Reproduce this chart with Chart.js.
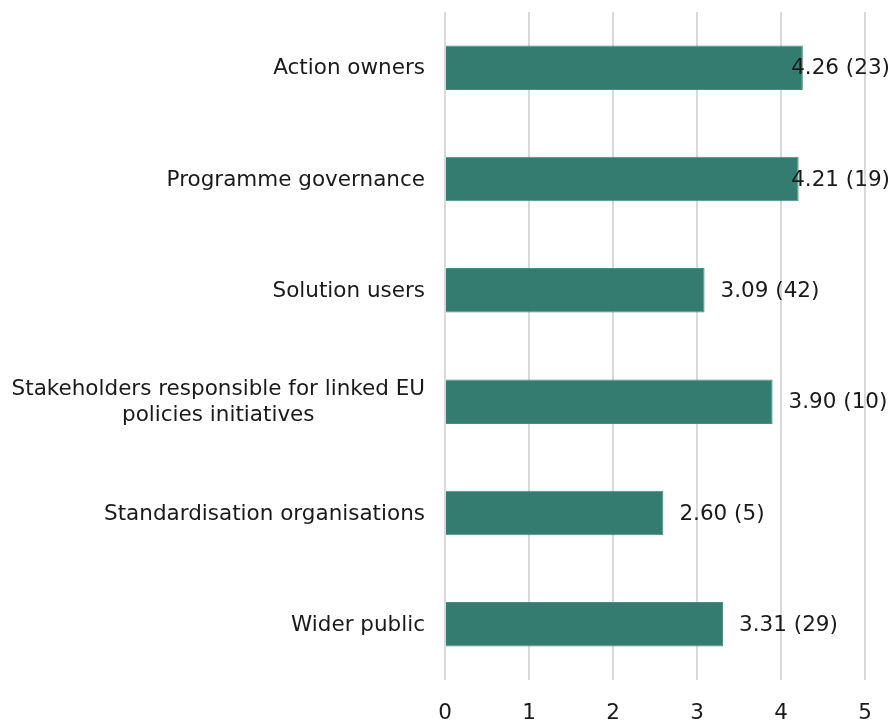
<!DOCTYPE html>
<html>
<head>
<meta charset="utf-8">
<script src="https://cdn.jsdelivr.net/npm/chart.js@4"></script>
<style>
  html, body { margin: 0; padding: 0; background: #fff; }
  #wrap { width: 895px; height: 720px; }
</style>
</head>
<body>
<div id="wrap"><canvas id="chart"></canvas></div>
<script>
const categories = [
  ['Action owners'],
  ['Programme governance'],
  ['Solution users'],
  ['Stakeholders responsible for linked EU', 'policies initiatives'],
  ['Standardisation organisations'],
  ['Wider public']
];
const scores = [4.26, 4.21, 3.09, 3.90, 2.60, 3.31];
const respondents = [23, 19, 42, 10, 5, 29];
const xTicks = [0, 1, 2, 3, 4, 5];

const FONT = '"DejaVu Sans", Verdana, sans-serif';
const FONT_SIZE = 21.5;
const TEXT = '#1a1a1a';

// category names left of the axis, multi-line ones centred on their widest line
const categoryLabels = {
  id: 'categoryLabels',
  afterDraw(chart) {
    const { ctx, chartArea, scales } = chart;
    ctx.save();
    ctx.font = FONT_SIZE + 'px ' + FONT;
    ctx.fillStyle = TEXT;
    ctx.textBaseline = 'middle';
    const right = chartArea.left - 20;
    categories.forEach((lines, i) => {
      const y = scales.y.getPixelForValue(i) + 1;
      const lh = 26;
      const y0 = y - (lines.length - 1) * lh / 2;
      if (lines.length === 1) {
        ctx.textAlign = 'right';
        ctx.fillText(lines[0], right, y0);
      } else {
        const w = Math.max(...lines.map(l => ctx.measureText(l).width));
        ctx.textAlign = 'center';
        lines.forEach((l, j) => ctx.fillText(l, right - w / 2, y0 + j * lh));
      }
    });
    ctx.restore();
  }
};

// "score (n)" next to each bar, pulled back inside the canvas when it would overflow
const valueLabels = {
  id: 'valueLabels',
  afterDatasetsDraw(chart) {
    const { ctx } = chart;
    const meta = chart.getDatasetMeta(0);
    ctx.save();
    ctx.font = FONT_SIZE + 'px ' + FONT;
    ctx.fillStyle = TEXT;
    ctx.textBaseline = 'middle';
    ctx.textAlign = 'left';
    meta.data.forEach((bar, i) => {
      const txt = scores[i].toFixed(2) + ' (' + respondents[i] + ')';
      const w = ctx.measureText(txt).width;
      const x = Math.min(bar.x + 16, chart.width - 5 - w);
      ctx.fillText(txt, x, bar.y + 1);
    });
    ctx.restore();
  }
};

new Chart(document.getElementById('chart'), {
  type: 'bar',
  data: {
    labels: categories.map(c => c.join(' ')),
    datasets: [{
      data: scores,
      backgroundColor: '#347c6f',
      borderColor: '#4a8c80',
      borderWidth: 1,
      borderSkipped: 'start',
      barPercentage: 0.4,
      categoryPercentage: 1
    }]
  },
  options: {
    indexAxis: 'y',
    responsive: true,
    maintainAspectRatio: false,
    animation: false,
    layout: { padding: { left: 445, right: 30, top: 12, bottom: 0 } },
    plugins: { legend: { display: false }, tooltip: { enabled: false } },
    scales: {
      x: {
        min: 0,
        max: 5,
        afterBuildTicks: axis => { axis.ticks = xTicks.map(v => ({ value: v })); },
        afterFit: axis => { axis.height = 40; },
        grid: { color: '#d9d9d9', lineWidth: 2, drawTicks: false },
        border: { display: false },
        ticks: { color: TEXT, font: { family: FONT, size: FONT_SIZE }, padding: 21 }
      },
      y: { display: false }
    }
  },
  plugins: [categoryLabels, valueLabels]
});
</script>
</body>
</html>
